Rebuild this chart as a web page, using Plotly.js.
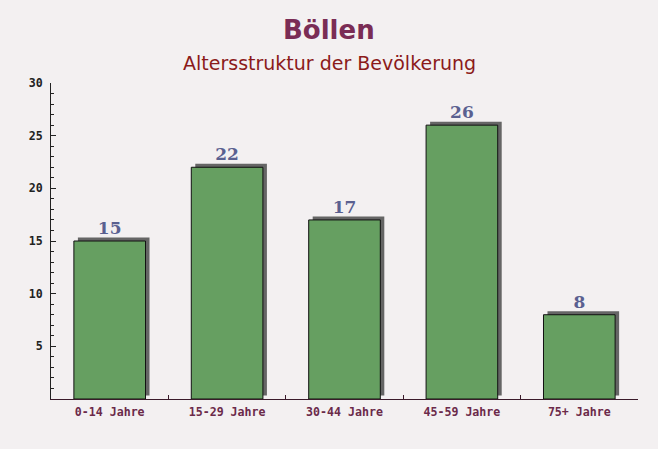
<!DOCTYPE html>
<html>
<head>
<meta charset="utf-8">
<script src="https://cdn.plot.ly/plotly-3.0.1.min.js"></script>
<style>html,body{margin:0;padding:0;background:#f3f0f1;}</style>
</head>
<body>
<div id="chart" style="width:658px;height:449px;"></div>
<script>
const categories = ["0-14 Jahre", "15-29 Jahre", "30-44 Jahre", "45-59 Jahre", "75+ Jahre"];
const values = [15, 22, 17, 26, 8];
const yTickVals = [5, 10, 15, 20, 25, 30];
const yTickText = ["5", "10", "15", "20", "25", "30"];
const titleText = "Böllen";
const subtitleText = "Altersstruktur der Bevölkerung";

const W = 658, H = 449;
const L = 51, R = 20, T = 83, B = 50;
const pw = W - L - R, ph = H - T - B;
// shadow offset in pixels -> axis units
const sxu = 4 / (pw / categories.length);
const syu = 3.5 / ph * 30;
const cx = (W / 2 - L) / pw;

const shadow = {
  type: 'bar', x: categories, y: values, xaxis: 'x', yaxis: 'y',
  width: 0.61,
  marker: {color: 'rgba(85,85,85,0.9)', line: {width: 0}},
  hoverinfo: 'skip', showlegend: false
};
const main = {
  type: 'bar', x: categories, y: values, xaxis: 'x2', yaxis: 'y2',
  width: 0.61,
  marker: {color: 'rgb(102,159,97)', line: {color: '#111', width: 1}},
  text: values.map(String), textposition: 'outside', cliponaxis: false,
  textfont: {family: 'DejaVu Serif', size: 17, color: '#5a6090', weight: 'bold'},
  showlegend: false
};

const layout = {
  width: W, height: H,
  paper_bgcolor: '#f3f0f1', plot_bgcolor: 'rgba(0,0,0,0)',
  margin: {l: L, r: R, t: T, b: B},
  showlegend: false,
  annotations: [
    {text: '<b>' + titleText + '</b>', xref: 'paper', yref: 'paper', x: cx, y: 1 + (T - 30) / ph,
     xanchor: 'center', yanchor: 'middle', showarrow: false,
     font: {family: 'DejaVu Sans', size: 26, color: '#7a2c55'}},
    {text: subtitleText, xref: 'paper', yref: 'paper', x: cx, y: 1 + (T - 63) / ph,
     xanchor: 'center', yanchor: 'middle', showarrow: false,
     font: {family: 'DejaVu Sans', size: 19, color: '#8b1a1a'}}
  ],
  xaxis: {
    domain: [0, 1], anchor: 'y', visible: false, type: 'category',
    range: [-0.5 - sxu, 4.5 - sxu]
  },
  yaxis: {
    domain: [0, 1], anchor: 'x', visible: false, range: [-syu, 30 - syu]
  },
  xaxis2: {
    domain: [0, 1], anchor: 'y2', type: 'category', range: [-0.5, 4.5],
    showline: true, linecolor: '#3a1a2a', linewidth: 1,
    ticks: 'inside', tickson: 'boundaries', ticklen: 4, tickcolor: '#3a1a2a',
    tickfont: {family: 'DejaVu Sans Mono', size: 11.6, color: '#6b2a4a', weight: 'bold'},
    ticklabelstandoff: 2,
    showgrid: false, zeroline: false
  },
  yaxis2: {
    domain: [0, 1], anchor: 'x2', range: [0, 30],
    showline: true, linecolor: '#222', linewidth: 1,
    tickmode: 'array', tickvals: yTickVals, ticktext: yTickText,
    ticks: 'inside', ticklen: 5, tickcolor: '#222',
    minor: {dtick: 1, tick0: 0, ticks: 'inside', ticklen: 3, tickcolor: '#222', showgrid: false},
    tickfont: {family: 'DejaVu Sans Mono', size: 11.6, color: '#222', weight: 'bold'},
    ticklabelstandoff: 5,
    showgrid: false, zeroline: false
  }
};

Plotly.newPlot('chart', [shadow, main], layout, {displayModeBar: false, staticPlot: true});
</script>
</body>
</html>
